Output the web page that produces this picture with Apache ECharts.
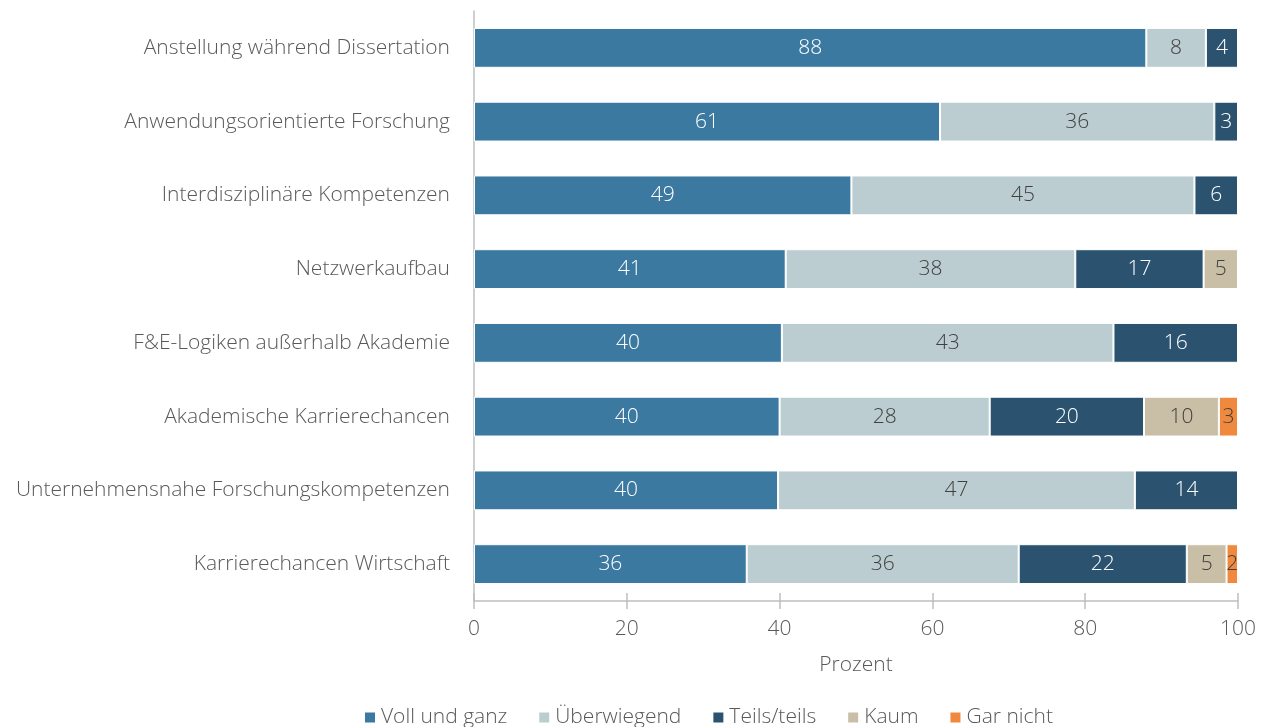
<!DOCTYPE html>
<html>
<head>
<meta charset="utf-8">
<script src="https://cdn.jsdelivr.net/npm/echarts@6/dist/echarts.min.js"></script>
<style>
	html, body { margin: 0; padding: 0; background: #fff; }
	#main { width: 1269px; height: 727px; }
</style>
</head>
<body>
<div id="main"></div>
<script>
// Kategorien (von oben nach unten)
const categories = [
	'Anstellung während Dissertation',
	'Anwendungsorientierte Forschung',
	'Interdisziplinäre Kompetenzen',
	'Netzwerkaufbau',
	'F&E-Logiken außerhalb Akademie',
	'Akademische Karrierechancen',
	'Unternehmensnahe Forschungskompetenzen',
	'Karrierechancen Wirtschaft'
];
const seriesNames = ['Voll und ganz', 'Überwiegend', 'Teils/teils', 'Kaum', 'Gar nicht'];
const vollUndGanz = [88.0, 61.0, 49.4, 40.8, 40.3, 40.0, 39.8, 35.7];
const ueberwiegend = [7.8, 35.9, 44.9, 37.9, 43.4, 27.5, 46.7, 35.6];
const teilsTeils = [4.2, 3.1, 5.7, 16.8, 16.3, 20.2, 13.5, 22.0];
const kaum = [0, 0, 0, 4.5, 0, 9.8, 0, 5.2];
const garNicht = [0, 0, 0, 0, 0, 2.5, 0, 1.5];
const xTicks = [0, 20, 40, 60, 80, 100];

const colors = ['#3c79a0', '#bccdd2', '#2b5370', '#c9bea6', '#f0883e'];
const labelColors = ['#ffffff', '#404040', '#ffffff', '#404040', '#404040'];
const fontFamily = 'Open Sans';
const fontWeight = 300;
const fontSize = 21;

const allValues = [vollUndGanz, ueberwiegend, teilsTeils, kaum, garNicht];

let myChart = echarts.init(document.getElementById('main'));

let seriesArr = seriesNames.map(function(name, i){
	return {
		name: name,
		type: 'bar',
		stack: 'total',
		barWidth: '54%',
		data: allValues[i].map(function(v){ return v > 0 ? v : '-'; }),
		itemStyle: {
			color: colors[i],
			borderColor: '#ffffff',
			borderWidth: 1
		},
		label: {
			show: true,
			position: 'inside',
			color: labelColors[i],
			fontFamily: fontFamily,
			fontWeight: fontWeight,
			fontSize: fontSize,
			formatter: function(p){ return Math.round(p.value); }
		},
		emphasis: { disabled: true }
	};
});

let option = {
	animation: false,
	color: colors,
	grid: {
		left: 474,
		right: 31,
		top: 11,
		bottom: 126,
		containLabel: false
	},
	legend: {
		data: seriesNames,
		left: 358,
		top: 702,
		itemWidth: 12,
		itemHeight: 12,
		itemGap: 30,
		icon: 'rect',
		textStyle: { color: '#595959', fontSize: fontSize, fontFamily: fontFamily, fontWeight: fontWeight }
	},
	xAxis: [{
		type: 'value',
		min: 0,
		max: 100,
		interval: 20,
		name: 'Prozent',
		nameLocation: 'middle',
		nameGap: 54,
		nameTextStyle: { color: '#595959', fontSize: fontSize, fontFamily: fontFamily, fontWeight: fontWeight },
		axisLine: { show: true, lineStyle: { color: '#bfbfbf', width: 1.5 } },
		axisTick: { show: true, length: 8, lineStyle: { color: '#bfbfbf', width: 1.5 } },
		axisLabel: {
			color: '#595959', fontSize: fontSize, fontFamily: fontFamily, fontWeight: fontWeight, margin: 18,
			formatter: function(v){ return xTicks.indexOf(v) >= 0 ? v : ''; }
		},
		splitLine: { show: false }
	}, {
		type: 'value',
		position: 'bottom',
		min: 0,
		max: 100,
		interval: 20,
		axisLine: { show: false },
		axisTick: { show: true, inside: true, length: 8, lineStyle: { color: '#bfbfbf', width: 1.5 } },
		axisLabel: { show: false },
		splitLine: { show: false }
	}],
	yAxis: {
		type: 'category',
		data: categories,
		inverse: true,
		axisLine: { show: true, lineStyle: { color: '#bfbfbf', width: 1.5 } },
		axisTick: { show: false },
		axisLabel: { color: '#595959', fontSize: fontSize, fontFamily: fontFamily, fontWeight: fontWeight, margin: 24 }
	},
	series: seriesArr
};

myChart.setOption(option);
</script>
</body>
</html>
